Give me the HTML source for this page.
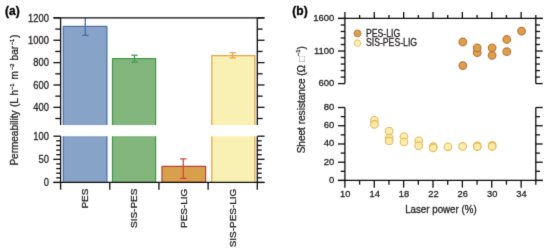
<!DOCTYPE html>
<html><head><meta charset="utf-8"><style>
html,body{margin:0;padding:0;background:#fff;}
text{stroke:#231f20;stroke-width:0.3px;}
svg{display:block;font-family:"Liberation Sans",sans-serif;}
</style></head><body>
<svg width="550" height="251" viewBox="0 0 550 251">
<defs><filter id="soft" x="0" y="0" width="550" height="251" filterUnits="userSpaceOnUse" color-interpolation-filters="sRGB"><feConvolveMatrix order="3" kernelMatrix="0.01000 0.08000 0.01000 0.08000 0.64000 0.08000 0.01000 0.08000 0.01000" edgeMode="duplicate" preserveAlpha="true"/></filter></defs>
<rect width="550" height="251" fill="#fff"/>
<g filter="url(#soft)">
<rect width="550" height="251" fill="#fff"/>
<rect x="63.3" y="26.40" width="43.60" height="98.70" fill="#87a3c8"/>
<path d="M63.3 125.1 V26.40 H106.9 V125.1" fill="none" stroke="#4f6fa4" stroke-width="1.25" stroke-linejoin="round"/>
<rect x="63.3" y="136.2" width="43.60" height="46.25" fill="#87a3c8"/>
<path d="M63.3 136.2 V182.45 M106.9 136.2 V182.45" fill="none" stroke="#4f6fa4" stroke-width="1.25" stroke-linejoin="round"/>
<rect x="112.5" y="58.60" width="43.10" height="66.50" fill="#82b67c"/>
<path d="M112.5 125.1 V58.60 H155.6 V125.1" fill="none" stroke="#43964a" stroke-width="1.25" stroke-linejoin="round"/>
<rect x="112.5" y="136.2" width="43.10" height="46.25" fill="#82b67c"/>
<path d="M112.5 136.2 V182.45 M155.6 136.2 V182.45" fill="none" stroke="#43964a" stroke-width="1.25" stroke-linejoin="round"/>
<rect x="162.0" y="166.40" width="43.60" height="16.05" fill="#d9a04c" stroke="#b4453a" stroke-width="1.25" stroke-linejoin="round"/>
<rect x="211.8" y="55.50" width="43.10" height="69.60" fill="#f9f0b3"/>
<path d="M211.8 125.1 V55.50 H254.9 V125.1" fill="none" stroke="#e3a548" stroke-width="1.25" stroke-linejoin="round"/>
<rect x="211.8" y="136.2" width="43.10" height="46.25" fill="#f9f0b3"/>
<path d="M211.8 136.2 V182.45 M254.9 136.2 V182.45" fill="none" stroke="#e3a548" stroke-width="1.25" stroke-linejoin="round"/>
<line x1="85.30" y1="17.90" x2="85.30" y2="35.40" stroke="#486a9f" stroke-width="1.25" />
<line x1="82.10" y1="35.40" x2="88.50" y2="35.40" stroke="#486a9f" stroke-width="1.25" />
<line x1="134.50" y1="55.20" x2="134.50" y2="62.00" stroke="#43964a" stroke-width="1.25" />
<line x1="131.30" y1="55.20" x2="137.70" y2="55.20" stroke="#43964a" stroke-width="1.25" />
<line x1="131.30" y1="62.00" x2="137.70" y2="62.00" stroke="#43964a" stroke-width="1.25" />
<line x1="183.30" y1="158.90" x2="183.30" y2="178.30" stroke="#d43f38" stroke-width="1.25" />
<line x1="180.10" y1="158.90" x2="186.50" y2="158.90" stroke="#d43f38" stroke-width="1.25" />
<line x1="180.10" y1="178.30" x2="186.50" y2="178.30" stroke="#d43f38" stroke-width="1.25" />
<line x1="232.70" y1="52.70" x2="232.70" y2="57.90" stroke="#e3a548" stroke-width="1.25" />
<line x1="229.50" y1="52.70" x2="235.90" y2="52.70" stroke="#e3a548" stroke-width="1.25" />
<line x1="229.50" y1="57.90" x2="235.90" y2="57.90" stroke="#e3a548" stroke-width="1.25" />
<line x1="60.60" y1="17.90" x2="60.60" y2="125.10" stroke="#0c0c0c" stroke-width="1.3" />
<line x1="60.60" y1="136.20" x2="60.60" y2="182.45" stroke="#0c0c0c" stroke-width="1.3" />
<line x1="257.30" y1="17.90" x2="257.30" y2="125.10" stroke="#0c0c0c" stroke-width="1.3" />
<line x1="257.30" y1="136.20" x2="257.30" y2="182.45" stroke="#0c0c0c" stroke-width="1.3" />
<line x1="53.40" y1="17.90" x2="264.50" y2="17.90" stroke="#0c0c0c" stroke-width="1.3" />
<line x1="53.40" y1="182.45" x2="264.50" y2="182.45" stroke="#0c0c0c" stroke-width="1.3" />
<line x1="53.40" y1="17.90" x2="60.60" y2="17.90" stroke="#0c0c0c" stroke-width="1.3" />
<line x1="257.30" y1="17.90" x2="264.50" y2="17.90" stroke="#0c0c0c" stroke-width="1.3" />
<line x1="55.30" y1="29.08" x2="60.60" y2="29.08" stroke="#0c0c0c" stroke-width="1.3" />
<line x1="257.30" y1="29.08" x2="262.60" y2="29.08" stroke="#0c0c0c" stroke-width="1.3" />
<line x1="53.40" y1="40.26" x2="60.60" y2="40.26" stroke="#0c0c0c" stroke-width="1.3" />
<line x1="257.30" y1="40.26" x2="264.50" y2="40.26" stroke="#0c0c0c" stroke-width="1.3" />
<line x1="55.30" y1="51.44" x2="60.60" y2="51.44" stroke="#0c0c0c" stroke-width="1.3" />
<line x1="257.30" y1="51.44" x2="262.60" y2="51.44" stroke="#0c0c0c" stroke-width="1.3" />
<line x1="53.40" y1="62.62" x2="60.60" y2="62.62" stroke="#0c0c0c" stroke-width="1.3" />
<line x1="257.30" y1="62.62" x2="264.50" y2="62.62" stroke="#0c0c0c" stroke-width="1.3" />
<line x1="55.30" y1="73.80" x2="60.60" y2="73.80" stroke="#0c0c0c" stroke-width="1.3" />
<line x1="257.30" y1="73.80" x2="262.60" y2="73.80" stroke="#0c0c0c" stroke-width="1.3" />
<line x1="53.40" y1="84.98" x2="60.60" y2="84.98" stroke="#0c0c0c" stroke-width="1.3" />
<line x1="257.30" y1="84.98" x2="264.50" y2="84.98" stroke="#0c0c0c" stroke-width="1.3" />
<line x1="55.30" y1="96.16" x2="60.60" y2="96.16" stroke="#0c0c0c" stroke-width="1.3" />
<line x1="257.30" y1="96.16" x2="262.60" y2="96.16" stroke="#0c0c0c" stroke-width="1.3" />
<line x1="53.40" y1="107.34" x2="60.60" y2="107.34" stroke="#0c0c0c" stroke-width="1.3" />
<line x1="257.30" y1="107.34" x2="264.50" y2="107.34" stroke="#0c0c0c" stroke-width="1.3" />
<line x1="55.30" y1="118.52" x2="60.60" y2="118.52" stroke="#0c0c0c" stroke-width="1.3" />
<line x1="257.30" y1="118.52" x2="262.60" y2="118.52" stroke="#0c0c0c" stroke-width="1.3" />
<line x1="53.40" y1="182.45" x2="60.60" y2="182.45" stroke="#0c0c0c" stroke-width="1.3" />
<line x1="257.30" y1="182.45" x2="264.50" y2="182.45" stroke="#0c0c0c" stroke-width="1.3" />
<line x1="56.20" y1="177.82" x2="60.60" y2="177.82" stroke="#0c0c0c" stroke-width="1.3" />
<line x1="257.30" y1="177.82" x2="261.70" y2="177.82" stroke="#0c0c0c" stroke-width="1.3" />
<line x1="56.20" y1="173.20" x2="60.60" y2="173.20" stroke="#0c0c0c" stroke-width="1.3" />
<line x1="257.30" y1="173.20" x2="261.70" y2="173.20" stroke="#0c0c0c" stroke-width="1.3" />
<line x1="56.20" y1="168.57" x2="60.60" y2="168.57" stroke="#0c0c0c" stroke-width="1.3" />
<line x1="257.30" y1="168.57" x2="261.70" y2="168.57" stroke="#0c0c0c" stroke-width="1.3" />
<line x1="56.20" y1="163.95" x2="60.60" y2="163.95" stroke="#0c0c0c" stroke-width="1.3" />
<line x1="257.30" y1="163.95" x2="261.70" y2="163.95" stroke="#0c0c0c" stroke-width="1.3" />
<line x1="53.40" y1="159.32" x2="60.60" y2="159.32" stroke="#0c0c0c" stroke-width="1.3" />
<line x1="257.30" y1="159.32" x2="264.50" y2="159.32" stroke="#0c0c0c" stroke-width="1.3" />
<line x1="56.20" y1="154.70" x2="60.60" y2="154.70" stroke="#0c0c0c" stroke-width="1.3" />
<line x1="257.30" y1="154.70" x2="261.70" y2="154.70" stroke="#0c0c0c" stroke-width="1.3" />
<line x1="56.20" y1="150.07" x2="60.60" y2="150.07" stroke="#0c0c0c" stroke-width="1.3" />
<line x1="257.30" y1="150.07" x2="261.70" y2="150.07" stroke="#0c0c0c" stroke-width="1.3" />
<line x1="56.20" y1="145.45" x2="60.60" y2="145.45" stroke="#0c0c0c" stroke-width="1.3" />
<line x1="257.30" y1="145.45" x2="261.70" y2="145.45" stroke="#0c0c0c" stroke-width="1.3" />
<line x1="56.20" y1="140.82" x2="60.60" y2="140.82" stroke="#0c0c0c" stroke-width="1.3" />
<line x1="257.30" y1="140.82" x2="261.70" y2="140.82" stroke="#0c0c0c" stroke-width="1.3" />
<line x1="53.40" y1="136.20" x2="60.60" y2="136.20" stroke="#0c0c0c" stroke-width="1.3" />
<line x1="257.30" y1="136.20" x2="264.50" y2="136.20" stroke="#0c0c0c" stroke-width="1.3" />
<line x1="60.60" y1="182.45" x2="60.60" y2="189.65" stroke="#0c0c0c" stroke-width="1.3" />
<line x1="109.78" y1="182.45" x2="109.78" y2="189.65" stroke="#0c0c0c" stroke-width="1.3" />
<line x1="158.95" y1="182.45" x2="158.95" y2="189.65" stroke="#0c0c0c" stroke-width="1.3" />
<line x1="208.12" y1="182.45" x2="208.12" y2="189.65" stroke="#0c0c0c" stroke-width="1.3" />
<line x1="257.30" y1="182.45" x2="257.30" y2="189.65" stroke="#0c0c0c" stroke-width="1.3" />
<text transform="translate(48.90,21.50) scale(0.9,1)" font-size="10.4" text-anchor="end" font-weight="normal" fill="#231f20" >1200</text>
<text transform="translate(48.90,43.86) scale(0.9,1)" font-size="10.4" text-anchor="end" font-weight="normal" fill="#231f20" >1000</text>
<text transform="translate(48.90,66.22) scale(0.9,1)" font-size="10.4" text-anchor="end" font-weight="normal" fill="#231f20" >800</text>
<text transform="translate(48.90,88.58) scale(0.9,1)" font-size="10.4" text-anchor="end" font-weight="normal" fill="#231f20" >600</text>
<text transform="translate(48.90,110.94) scale(0.9,1)" font-size="10.4" text-anchor="end" font-weight="normal" fill="#231f20" >400</text>
<text transform="translate(48.90,139.80) scale(0.9,1)" font-size="10.4" text-anchor="end" font-weight="normal" fill="#231f20" >100</text>
<text transform="translate(48.90,162.92) scale(0.9,1)" font-size="10.4" text-anchor="end" font-weight="normal" fill="#231f20" >50</text>
<text transform="translate(48.90,186.05) scale(0.9,1)" font-size="10.4" text-anchor="end" font-weight="normal" fill="#231f20" >0</text>
<text transform="translate(88.2,188.7) rotate(-90) scale(1.06,1)" font-size="9.4" text-anchor="end" fill="#231f20">PES</text>
<text transform="translate(137.4,188.7) rotate(-90) scale(1.06,1)" font-size="9.4" text-anchor="end" fill="#231f20">SIS-PES</text>
<text transform="translate(187.0,188.7) rotate(-90) scale(1.06,1)" font-size="9.4" text-anchor="end" fill="#231f20">PES-LIG</text>
<text transform="translate(236.0,188.7) rotate(-90) scale(1.06,1)" font-size="9.4" text-anchor="end" fill="#231f20">SIS-PES-LIG</text>
<text transform="translate(18.4,165.6) rotate(-90)" font-size="10" fill="#231f20"><tspan x="0">Permeability</tspan><tspan x="58.5">(L</tspan><tspan x="70.0">h</tspan><tspan x="75.6" font-size="5.7" dy="-4.8">−1</tspan><tspan x="86.0" dy="4.8">m</tspan><tspan x="95.6" font-size="5.7" dy="-4.8">−2</tspan><tspan x="105.2" dy="4.8">bar</tspan><tspan x="120.4" font-size="5.7" dy="-4.8">−1</tspan><tspan x="127.6" dy="4.8">)</tspan></text>
<text transform="translate(5.00,15.20) scale(0.94,1)" font-size="12.8" text-anchor="start" font-weight="bold" fill="#231f20" style="fill:#000;stroke:#000;stroke-width:0.35px">(a)</text>
<circle cx="462.82" cy="42.0" r="3.8" fill="#dca146" stroke="#c07446" stroke-width="1.2"/>
<circle cx="462.82" cy="65.6" r="3.8" fill="#dca146" stroke="#c07446" stroke-width="1.2"/>
<circle cx="477.21" cy="52.7" r="3.8" fill="#dca146" stroke="#c07446" stroke-width="1.2"/>
<circle cx="477.21" cy="47.8" r="3.8" fill="#dca146" stroke="#c07446" stroke-width="1.2"/>
<circle cx="492.11" cy="55.3" r="3.8" fill="#dca146" stroke="#c07446" stroke-width="1.2"/>
<circle cx="492.11" cy="47.8" r="3.8" fill="#dca146" stroke="#c07446" stroke-width="1.2"/>
<circle cx="506.80" cy="51.7" r="3.8" fill="#dca146" stroke="#c07446" stroke-width="1.2"/>
<circle cx="506.80" cy="39.5" r="3.8" fill="#dca146" stroke="#c07446" stroke-width="1.2"/>
<circle cx="521.56" cy="31.1" r="3.8" fill="#dca146" stroke="#c07446" stroke-width="1.2"/>
<circle cx="374.42" cy="120.3" r="3.8" fill="#f9eba2" fill-opacity="0.85" stroke="#e4b95a" stroke-width="1.1"/>
<circle cx="374.42" cy="124.4" r="3.8" fill="#f9eba2" fill-opacity="0.85" stroke="#e4b95a" stroke-width="1.1"/>
<circle cx="389.17" cy="131.1" r="3.8" fill="#f9eba2" fill-opacity="0.85" stroke="#e4b95a" stroke-width="1.1"/>
<circle cx="389.17" cy="138.1" r="3.8" fill="#f9eba2" fill-opacity="0.85" stroke="#e4b95a" stroke-width="1.1"/>
<circle cx="389.17" cy="140.9" r="3.8" fill="#f9eba2" fill-opacity="0.85" stroke="#e4b95a" stroke-width="1.1"/>
<circle cx="404.01" cy="136.5" r="3.8" fill="#f9eba2" fill-opacity="0.85" stroke="#e4b95a" stroke-width="1.1"/>
<circle cx="404.01" cy="142.0" r="3.8" fill="#f9eba2" fill-opacity="0.85" stroke="#e4b95a" stroke-width="1.1"/>
<circle cx="418.69" cy="140.8" r="3.8" fill="#f9eba2" fill-opacity="0.85" stroke="#e4b95a" stroke-width="1.1"/>
<circle cx="418.69" cy="145.7" r="3.8" fill="#f9eba2" fill-opacity="0.85" stroke="#e4b95a" stroke-width="1.1"/>
<circle cx="433.23" cy="146.7" r="3.8" fill="#f9eba2" fill-opacity="0.85" stroke="#e4b95a" stroke-width="1.1"/>
<circle cx="433.23" cy="148.0" r="3.8" fill="#f9eba2" fill-opacity="0.85" stroke="#e4b95a" stroke-width="1.1"/>
<circle cx="447.91" cy="146.8" r="3.8" fill="#f9eba2" fill-opacity="0.85" stroke="#e4b95a" stroke-width="1.1"/>
<circle cx="462.67" cy="146.4" r="3.8" fill="#f9eba2" fill-opacity="0.85" stroke="#e4b95a" stroke-width="1.1"/>
<circle cx="477.36" cy="145.9" r="3.8" fill="#f9eba2" fill-opacity="0.85" stroke="#e4b95a" stroke-width="1.1"/>
<circle cx="477.36" cy="146.7" r="3.8" fill="#f9eba2" fill-opacity="0.85" stroke="#e4b95a" stroke-width="1.1"/>
<circle cx="492.19" cy="145.4" r="3.8" fill="#f9eba2" fill-opacity="0.85" stroke="#e4b95a" stroke-width="1.1"/>
<circle cx="492.19" cy="146.4" r="3.8" fill="#f9eba2" fill-opacity="0.85" stroke="#e4b95a" stroke-width="1.1"/>
<circle cx="357.5" cy="33.4" r="3.4" fill="#dca146" stroke="#c07446" stroke-width="1"/>
<circle cx="357.5" cy="43.1" r="3.3" fill="#fbeeb2" stroke="#e8c268" stroke-width="1"/>
<text transform="translate(366.0,36.5) scale(0.834,1)" font-size="10.4" fill="#231f20">PES-LIG</text>
<text transform="translate(366.0,46.2) scale(0.834,1)" font-size="10.4" fill="#231f20">SIS-PES-LIG</text>
<line x1="344.90" y1="18.45" x2="344.90" y2="83.60" stroke="#0c0c0c" stroke-width="1.3" />
<line x1="344.90" y1="107.50" x2="344.90" y2="180.45" stroke="#0c0c0c" stroke-width="1.3" />
<line x1="535.80" y1="18.45" x2="535.80" y2="83.60" stroke="#0c0c0c" stroke-width="1.3" />
<line x1="535.80" y1="107.50" x2="535.80" y2="180.45" stroke="#0c0c0c" stroke-width="1.3" />
<line x1="337.90" y1="18.45" x2="542.80" y2="18.45" stroke="#0c0c0c" stroke-width="1.3" />
<line x1="337.90" y1="180.45" x2="542.80" y2="180.45" stroke="#0c0c0c" stroke-width="1.3" />
<line x1="338.00" y1="18.45" x2="344.90" y2="18.45" stroke="#0c0c0c" stroke-width="1.3" />
<line x1="535.80" y1="18.45" x2="542.70" y2="18.45" stroke="#0c0c0c" stroke-width="1.3" />
<line x1="340.70" y1="24.96" x2="344.90" y2="24.96" stroke="#0c0c0c" stroke-width="1.3" />
<line x1="535.80" y1="24.96" x2="540.00" y2="24.96" stroke="#0c0c0c" stroke-width="1.3" />
<line x1="340.70" y1="31.48" x2="344.90" y2="31.48" stroke="#0c0c0c" stroke-width="1.3" />
<line x1="535.80" y1="31.48" x2="540.00" y2="31.48" stroke="#0c0c0c" stroke-width="1.3" />
<line x1="340.70" y1="37.99" x2="344.90" y2="37.99" stroke="#0c0c0c" stroke-width="1.3" />
<line x1="535.80" y1="37.99" x2="540.00" y2="37.99" stroke="#0c0c0c" stroke-width="1.3" />
<line x1="340.70" y1="44.51" x2="344.90" y2="44.51" stroke="#0c0c0c" stroke-width="1.3" />
<line x1="535.80" y1="44.51" x2="540.00" y2="44.51" stroke="#0c0c0c" stroke-width="1.3" />
<line x1="338.00" y1="51.02" x2="344.90" y2="51.02" stroke="#0c0c0c" stroke-width="1.3" />
<line x1="535.80" y1="51.02" x2="542.70" y2="51.02" stroke="#0c0c0c" stroke-width="1.3" />
<line x1="340.70" y1="57.54" x2="344.90" y2="57.54" stroke="#0c0c0c" stroke-width="1.3" />
<line x1="535.80" y1="57.54" x2="540.00" y2="57.54" stroke="#0c0c0c" stroke-width="1.3" />
<line x1="340.70" y1="64.05" x2="344.90" y2="64.05" stroke="#0c0c0c" stroke-width="1.3" />
<line x1="535.80" y1="64.05" x2="540.00" y2="64.05" stroke="#0c0c0c" stroke-width="1.3" />
<line x1="340.70" y1="70.57" x2="344.90" y2="70.57" stroke="#0c0c0c" stroke-width="1.3" />
<line x1="535.80" y1="70.57" x2="540.00" y2="70.57" stroke="#0c0c0c" stroke-width="1.3" />
<line x1="340.70" y1="77.08" x2="344.90" y2="77.08" stroke="#0c0c0c" stroke-width="1.3" />
<line x1="535.80" y1="77.08" x2="540.00" y2="77.08" stroke="#0c0c0c" stroke-width="1.3" />
<line x1="338.00" y1="83.60" x2="344.90" y2="83.60" stroke="#0c0c0c" stroke-width="1.3" />
<line x1="535.80" y1="83.60" x2="542.70" y2="83.60" stroke="#0c0c0c" stroke-width="1.3" />
<line x1="338.00" y1="180.45" x2="344.90" y2="180.45" stroke="#0c0c0c" stroke-width="1.3" />
<line x1="535.80" y1="180.45" x2="542.70" y2="180.45" stroke="#0c0c0c" stroke-width="1.3" />
<line x1="340.70" y1="171.33" x2="344.90" y2="171.33" stroke="#0c0c0c" stroke-width="1.3" />
<line x1="535.80" y1="171.33" x2="540.00" y2="171.33" stroke="#0c0c0c" stroke-width="1.3" />
<line x1="338.00" y1="162.21" x2="344.90" y2="162.21" stroke="#0c0c0c" stroke-width="1.3" />
<line x1="535.80" y1="162.21" x2="542.70" y2="162.21" stroke="#0c0c0c" stroke-width="1.3" />
<line x1="340.70" y1="153.09" x2="344.90" y2="153.09" stroke="#0c0c0c" stroke-width="1.3" />
<line x1="535.80" y1="153.09" x2="540.00" y2="153.09" stroke="#0c0c0c" stroke-width="1.3" />
<line x1="338.00" y1="143.97" x2="344.90" y2="143.97" stroke="#0c0c0c" stroke-width="1.3" />
<line x1="535.80" y1="143.97" x2="542.70" y2="143.97" stroke="#0c0c0c" stroke-width="1.3" />
<line x1="340.70" y1="134.86" x2="344.90" y2="134.86" stroke="#0c0c0c" stroke-width="1.3" />
<line x1="535.80" y1="134.86" x2="540.00" y2="134.86" stroke="#0c0c0c" stroke-width="1.3" />
<line x1="338.00" y1="125.74" x2="344.90" y2="125.74" stroke="#0c0c0c" stroke-width="1.3" />
<line x1="535.80" y1="125.74" x2="542.70" y2="125.74" stroke="#0c0c0c" stroke-width="1.3" />
<line x1="340.70" y1="116.62" x2="344.90" y2="116.62" stroke="#0c0c0c" stroke-width="1.3" />
<line x1="535.80" y1="116.62" x2="540.00" y2="116.62" stroke="#0c0c0c" stroke-width="1.3" />
<line x1="338.00" y1="107.50" x2="344.90" y2="107.50" stroke="#0c0c0c" stroke-width="1.3" />
<line x1="535.80" y1="107.50" x2="542.70" y2="107.50" stroke="#0c0c0c" stroke-width="1.3" />
<line x1="344.90" y1="11.95" x2="344.90" y2="18.45" stroke="#0c0c0c" stroke-width="1.3" />
<line x1="344.90" y1="180.45" x2="344.90" y2="187.65" stroke="#0c0c0c" stroke-width="1.3" />
<text transform="translate(345.30,197.00) scale(0.99,1)" font-size="9.4" text-anchor="middle" font-weight="normal" fill="#231f20" >10</text>
<line x1="359.58" y1="14.95" x2="359.58" y2="18.45" stroke="#0c0c0c" stroke-width="1.3" />
<line x1="359.58" y1="180.45" x2="359.58" y2="184.65" stroke="#0c0c0c" stroke-width="1.3" />
<line x1="374.27" y1="11.95" x2="374.27" y2="18.45" stroke="#0c0c0c" stroke-width="1.3" />
<line x1="374.27" y1="180.45" x2="374.27" y2="187.65" stroke="#0c0c0c" stroke-width="1.3" />
<text transform="translate(374.67,197.00) scale(0.99,1)" font-size="9.4" text-anchor="middle" font-weight="normal" fill="#231f20" >14</text>
<line x1="388.95" y1="14.95" x2="388.95" y2="18.45" stroke="#0c0c0c" stroke-width="1.3" />
<line x1="388.95" y1="180.45" x2="388.95" y2="184.65" stroke="#0c0c0c" stroke-width="1.3" />
<line x1="403.64" y1="11.95" x2="403.64" y2="18.45" stroke="#0c0c0c" stroke-width="1.3" />
<line x1="403.64" y1="180.45" x2="403.64" y2="187.65" stroke="#0c0c0c" stroke-width="1.3" />
<text transform="translate(404.04,197.00) scale(0.99,1)" font-size="9.4" text-anchor="middle" font-weight="normal" fill="#231f20" >18</text>
<line x1="418.32" y1="14.95" x2="418.32" y2="18.45" stroke="#0c0c0c" stroke-width="1.3" />
<line x1="418.32" y1="180.45" x2="418.32" y2="184.65" stroke="#0c0c0c" stroke-width="1.3" />
<line x1="433.01" y1="11.95" x2="433.01" y2="18.45" stroke="#0c0c0c" stroke-width="1.3" />
<line x1="433.01" y1="180.45" x2="433.01" y2="187.65" stroke="#0c0c0c" stroke-width="1.3" />
<text transform="translate(433.41,197.00) scale(0.99,1)" font-size="9.4" text-anchor="middle" font-weight="normal" fill="#231f20" >22</text>
<line x1="447.69" y1="14.95" x2="447.69" y2="18.45" stroke="#0c0c0c" stroke-width="1.3" />
<line x1="447.69" y1="180.45" x2="447.69" y2="184.65" stroke="#0c0c0c" stroke-width="1.3" />
<line x1="462.38" y1="11.95" x2="462.38" y2="18.45" stroke="#0c0c0c" stroke-width="1.3" />
<line x1="462.38" y1="180.45" x2="462.38" y2="187.65" stroke="#0c0c0c" stroke-width="1.3" />
<text transform="translate(462.78,197.00) scale(0.99,1)" font-size="9.4" text-anchor="middle" font-weight="normal" fill="#231f20" >26</text>
<line x1="477.06" y1="14.95" x2="477.06" y2="18.45" stroke="#0c0c0c" stroke-width="1.3" />
<line x1="477.06" y1="180.45" x2="477.06" y2="184.65" stroke="#0c0c0c" stroke-width="1.3" />
<line x1="491.75" y1="11.95" x2="491.75" y2="18.45" stroke="#0c0c0c" stroke-width="1.3" />
<line x1="491.75" y1="180.45" x2="491.75" y2="187.65" stroke="#0c0c0c" stroke-width="1.3" />
<text transform="translate(492.15,197.00) scale(0.99,1)" font-size="9.4" text-anchor="middle" font-weight="normal" fill="#231f20" >30</text>
<line x1="506.43" y1="14.95" x2="506.43" y2="18.45" stroke="#0c0c0c" stroke-width="1.3" />
<line x1="506.43" y1="180.45" x2="506.43" y2="184.65" stroke="#0c0c0c" stroke-width="1.3" />
<line x1="521.12" y1="11.95" x2="521.12" y2="18.45" stroke="#0c0c0c" stroke-width="1.3" />
<line x1="521.12" y1="180.45" x2="521.12" y2="187.65" stroke="#0c0c0c" stroke-width="1.3" />
<text transform="translate(521.52,197.00) scale(0.99,1)" font-size="9.4" text-anchor="middle" font-weight="normal" fill="#231f20" >34</text>
<line x1="535.80" y1="14.95" x2="535.80" y2="18.45" stroke="#0c0c0c" stroke-width="1.3" />
<line x1="535.80" y1="180.45" x2="535.80" y2="184.65" stroke="#0c0c0c" stroke-width="1.3" />
<text transform="translate(334.40,20.95) scale(1.01,1)" font-size="9.4" text-anchor="end" font-weight="normal" fill="#231f20" >1600</text>
<text transform="translate(334.40,53.52) scale(1.01,1)" font-size="9.4" text-anchor="end" font-weight="normal" fill="#231f20" >1100</text>
<text transform="translate(334.40,86.10) scale(1.01,1)" font-size="9.4" text-anchor="end" font-weight="normal" fill="#231f20" >600</text>
<text transform="translate(334.40,110.00) scale(1.01,1)" font-size="9.4" text-anchor="end" font-weight="normal" fill="#231f20" >80</text>
<text transform="translate(334.40,128.24) scale(1.01,1)" font-size="9.4" text-anchor="end" font-weight="normal" fill="#231f20" >60</text>
<text transform="translate(334.40,146.47) scale(1.01,1)" font-size="9.4" text-anchor="end" font-weight="normal" fill="#231f20" >40</text>
<text transform="translate(334.40,164.71) scale(1.01,1)" font-size="9.4" text-anchor="end" font-weight="normal" fill="#231f20" >20</text>
<text transform="translate(334.40,182.95) scale(1.01,1)" font-size="9.4" text-anchor="end" font-weight="normal" fill="#231f20" >0</text>
<text transform="translate(440.90,212.90) scale(0.948,1)" font-size="10.3" text-anchor="middle" font-weight="normal" fill="#231f20" >Laser power (%)</text>
<text transform="translate(305.4,99.7) rotate(-90)" font-size="10.05" text-anchor="middle" fill="#231f20">Sheet resistance (Ω <tspan fill="#8c8c8c" stroke="none">□</tspan><tspan font-size="5.8" dy="-5.3">−1</tspan><tspan dy="5.3">)</tspan></text>
<text transform="translate(292.30,15.20) scale(0.94,1)" font-size="12.8" text-anchor="start" font-weight="bold" fill="#231f20" style="fill:#000;stroke:#000;stroke-width:0.35px">(b)</text>
</g>
</svg>
</body></html>
